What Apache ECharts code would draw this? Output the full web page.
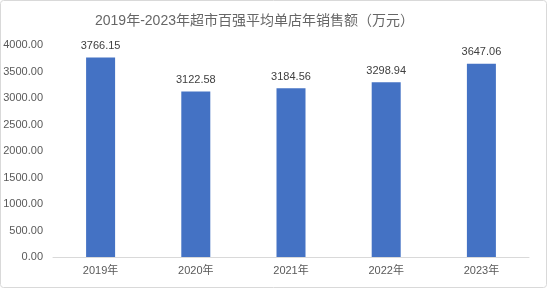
<!DOCTYPE html>
<html><head><meta charset="utf-8">
<script src="https://cdn.jsdelivr.net/npm/echarts@6/dist/echarts.min.js"></script>
<style>html,body{margin:0;padding:0;background:#fff}#c{width:548px;height:290px}</style>
</head><body><div id="c"></div>
<script>
const categories = ['2019年','2020年','2021年','2022年','2023年'];
const values = [3766.15, 3122.58, 3184.56, 3298.94, 3647.06];
const titleText = '2019年-2023年超市百强平均单店年销售额（万元）';
const chart = echarts.init(document.getElementById('c'));
const ff = '"Liberation Sans","Noto Sans CJK SC",sans-serif';
chart.setOption({
  animation:false,
  textStyle:{fontFamily:ff},
  graphic:[{type:'rect',shape:{x:0.5,y:0.5,width:546,height:287,r:3},style:{fill:'none',stroke:'#d9d9d9',lineWidth:1}}],
  title:{text:titleText,left:90,top:9,textStyle:{fontSize:14,fontWeight:'normal',color:'#666666',fontFamily:ff}},
  grid:{left:53,right:19,top:45,bottom:33},
  xAxis:{type:'category',data:categories,axisTick:{show:false},
    axisLine:{lineStyle:{color:'#d9d9d9'}},
    axisLabel:{color:'#595959',fontSize:11,margin:8}},
  yAxis:{type:'value',min:0,max:4000,interval:500,
    axisLine:{show:false},axisTick:{show:false},splitLine:{show:false},
    axisLabel:{color:'#595959',fontSize:11,formatter:v=>v.toFixed(2),margin:10}},
  series:[{type:'bar',data:values,barWidth:29,itemStyle:{color:'#4472C4'},
    label:{show:true,position:'top',color:'#404040',fontSize:11,distance:6,formatter:p=>p.value.toFixed(2)}}]
});
</script></body></html>
